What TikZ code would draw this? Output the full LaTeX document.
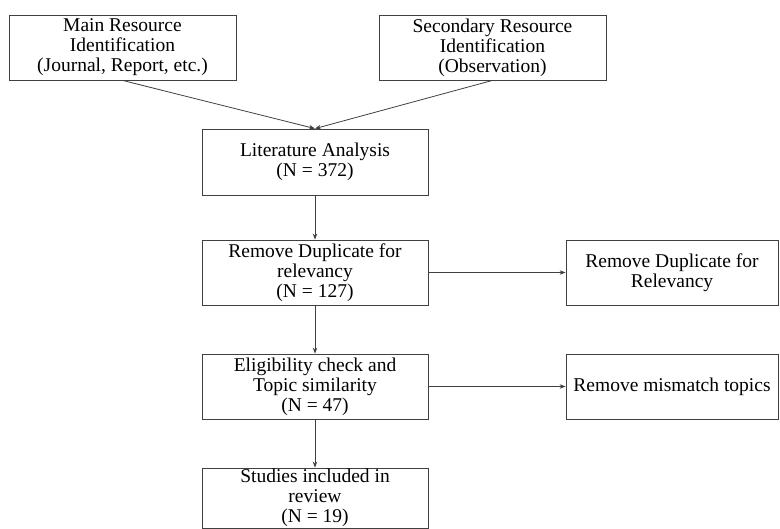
\documentclass[tikz,border=0pt]{standalone}
\usepackage{fontspec}
\setmainfont{Liberation Serif}
\usetikzlibrary{arrows.meta}

\begin{document}
\begin{tikzpicture}[x=1pt, y=-1pt, line width=0.8pt,
    stagebox/.style={draw=black!75, minimum height=65pt, inner sep=1pt,
        align=center, font=\fontsize{19.5}{20}\selectfont},
    flowarrow/.style={draw=black!75, -{Stealth[length=6pt,width=4.5pt]}}]
    % page size (Bounding box)
    \useasboundingbox (0,0) rectangle (780,529);

    % top sources (Resource boxes)
    \node[stagebox, minimum width=227pt] (main) at (122.5,47.5)
        {Main Resource\\Identification\\(Journal, Report, etc.)};
    \node[stagebox, minimum width=227pt] (second) at (492.5,47.5)
        {Secondary Resource\\Identification\\(Observation)};

    % main column (Screening steps)
    \node[stagebox, minimum width=226pt, minimum height=66pt] (litana) at (315,162)
        {Literature Analysis\\(N = 372)};
    \node[stagebox, minimum width=226pt] (dupl) at (315,272.5)
        {Remove Duplicate for\\relevancy\\(N = 127)};
    \node[stagebox, minimum width=226pt] (elig) at (315,386.5)
        {Eligibility check and\\Topic similarity\\(N = 47)};
    \node[stagebox, minimum width=226pt, minimum height=60pt] (studies) at (315,498)
        {Studies included in\\review\\(N = 19)};

    % side column (Removed records)
    \node[stagebox, minimum width=212pt] (duplout) at (672,272.5)
        {Remove Duplicate for\\Relevancy};
    \node[stagebox, minimum width=212pt] (mismatch) at (672,386.5)
        {Remove mismatch topics};

    % arrows (Connectors)
    \draw[flowarrow] (main.south) -- (litana.north);
    \draw[flowarrow] (second.south) -- (litana.north);
    \draw[flowarrow] (litana) -- (dupl);
    \draw[flowarrow] (dupl) -- (elig);
    \draw[flowarrow] (elig) -- (studies);
    \draw[flowarrow] (dupl) -- (duplout);
    \draw[flowarrow] (elig) -- (mismatch);

\end{tikzpicture}
\end{document}
